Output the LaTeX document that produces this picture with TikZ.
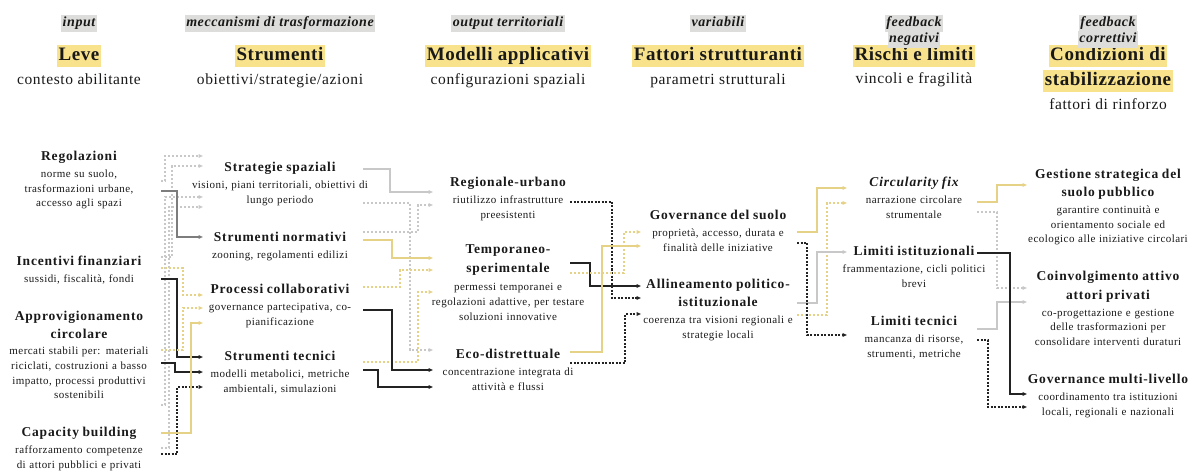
\documentclass[tikz,border=0pt]{standalone}
\usepackage{fontspec}
\setmainfont{Liberation Serif}[LetterSpace=4]
\newfontfamily\ttlfont{Liberation Serif}[LetterSpace=6]
\newfontfamily\hdfont{Liberation Serif}[LetterSpace=3]
\newfontfamily\lblfont{Liberation Serif}[LetterSpace=4]
\usepackage{xcolor}
\usetikzlibrary{arrows.meta}
\definecolor{hlyellow}{RGB}{248,226,140}
\definecolor{lblgray}{RGB}{221,221,219}
\definecolor{lnyellow}{RGB}{230,210,135}
\definecolor{lngray}{RGB}{200,200,200}
\definecolor{midgray}{RGB}{125,125,125}
\definecolor{lndark}{RGB}{35,35,35}
\definecolor{txtdark}{RGB}{25,25,25}
\newcommand{\nodettl}[1]{{\ttlfont\fontsize{13.5}{15}\selectfont\bfseries #1}}

\begin{document}
\begin{tikzpicture}[x=1pt, y=-1pt,
  every node/.style={text=txtdark},
  lbl/.style={fill=lblgray, inner xsep=1.5pt, inner ysep=2.2pt, text height=9.5pt, text depth=3pt,
              font=\lblfont\fontsize{14}{16}\selectfont\bfseries\itshape},
  hd/.style={fill=hlyellow, inner xsep=1.5pt, inner ysep=2pt, text height=13.5pt, text depth=4.5pt,
             font=\hdfont\fontsize{19}{22}\selectfont\bfseries},
  sub/.style={inner sep=0pt, text height=10pt, text depth=3pt, font=\fontsize{15.5}{18}\selectfont},
  item/.style={anchor=north, inner sep=0pt, align=center, text width=230pt,
               font=\fontsize{11}{14.8}\selectfont},
  arr/.style={-{Triangle[length=4.5pt, width=3.6pt]}, line width=1.1pt},
  ysol/.style={arr, draw=lnyellow},
  ydot/.style={arr, draw=lnyellow, dash pattern=on 2.2pt off 1.8pt},
  gsol/.style={arr, draw=lngray},
  gdot/.style={arr, draw=lngray, dash pattern=on 2.2pt off 1.8pt},
  msol/.style={arr, draw=midgray},
  ksol/.style={arr, draw=lndark},
  kdot/.style={arr, draw=lndark, dash pattern=on 2pt off 1.5pt}
]
\useasboundingbox (0,0) rectangle (1189,473);

% Intestazioni
\node[lbl] (hIn) at (79,23.5) {input};
\node[lbl] (hMec) at (280,23.5) {meccanismi di trasformazione};
\node[lbl] (hOut) at (508,23.5) {output territoriali};
\node[lbl] (hVar) at (718,23.5) {variabili};

\node[hd] (tLev) at (79,56.5) {Leve};
\node[hd] (tStr) at (280,56.5) {Strumenti};
\node[hd] (tMod) at (508,56.5) {Modelli applicativi};
\node[hd] (tFat) at (718,56.5) {Fattori strutturanti};
\node[hd] (tRis) at (914,56.5) {Rischi e limiti};
\node[hd] (tCon1) at (1108,56.5) {Condizioni di};
\node[hd] (tCon2) at (1108,81.5) {stabilizzazione};

\node[lbl] (hNeg1) at (914,23.5) {feedback};
\node[lbl] (hNeg2) at (914,39.5) {negativi};
\node[lbl] (hCor1) at (1108,23.5) {feedback};
\node[lbl] (hCor2) at (1108,39.5) {correttivi};

\node[sub] (sLev) at (79,81.5) {contesto abilitante};
\node[sub] (sStr) at (280,81.5) {obiettivi/strategie/azioni};
\node[sub] (sMod) at (508,81.5) {configurazioni spaziali};
\node[sub] (sFat) at (718,81.5) {parametri strutturali};
\node[sub] (sRis) at (914,80) {vincoli e fragilità};
\node[sub] (sCon) at (1108,106.5) {fattori di rinforzo};

% Colonna 1: Leve
\node[item] (R1) at (79,151) {\nodettl{Regolazioni}\\[2pt] norme su suolo,\\ trasformazioni urbane,\\ accesso agli spazi};
\node[item] (R2) at (79,256) {\nodettl{Incentivi finanziari}\\[2pt] sussidi, fiscalità, fondi};
\node[item] (R3) at (79,311) {\nodettl{Approvigionamento}\\[3.2pt] \nodettl{circolare}\\[1.2pt]
  mercati stabili per: materiali\\ riciclati, costruzioni a basso\\ impatto, processi produttivi\\ sostenibili};
\node[item] (R4) at (79,427) {\nodettl{Capacity building}\\[2pt] rafforzamento competenze\\ di attori pubblici e privati};

% Colonna 2: Strumenti
\node[item] (S1) at (280,162) {\nodettl{Strategie spaziali}\\[2pt] visioni, piani territoriali, obiettivi di\\ lungo periodo};
\node[item] (S2) at (280,232) {\nodettl{Strumenti normativi}\\[2pt] zooning, regolamenti edilizi};
\node[item] (S3) at (280,284) {\nodettl{Processi collaborativi}\\[2pt] governance partecipativa, co-\\ pianificazione};
\node[item] (S4) at (280,351) {\nodettl{Strumenti tecnici}\\[2pt] modelli metabolici, metriche\\ ambientali, simulazioni};

% Colonna 3: Modelli applicativi
\node[item] (M1) at (508,177) {\nodettl{Regionale-urbano}\\[2pt] riutilizzo infrastrutture\\ preesistenti};
\node[item] (M2) at (508,244) {\nodettl{Temporaneo-}\\[5pt] \nodettl{sperimentale}\\[3pt]
  permessi temporanei e\\ regolazioni adattive, per testare\\ soluzioni innovative};
\node[item] (M3) at (508,349) {\nodettl{Eco-distrettuale}\\[2pt] concentrazione integrata di\\ attività e flussi};

% Colonna 4: Fattori strutturanti
\node[item] (F1) at (718,210) {\nodettl{Governance del suolo}\\[2pt] proprietà, accesso, durata e\\ finalità delle iniziative};
\node[item] (F2) at (718,279) {\nodettl{Allineamento politico-}\\[3.2pt] \nodettl{istituzionale}\\[2pt]
  coerenza tra visioni regionali e\\ strategie locali};

% Colonna 5: Rischi e limiti
\node[item] (K1) at (914,177) {\nodettl{\itshape Circularity fix}\\[2pt] narrazione circolare\\ strumentale};
\node[item] (K2) at (914,246) {\nodettl{Limiti istituzionali}\\[2pt] frammentazione, cicli politici\\ brevi};
\node[item] (K3) at (914,316) {\nodettl{Limiti tecnici}\\[2pt] mancanza di risorse,\\ strumenti, metriche};

% Colonna 6: Condizioni di stabilizzazione
\node[item] (C1) at (1108,169) {\nodettl{Gestione strategica del}\\[3.2pt] \nodettl{suolo pubblico}\\[2pt]
  garantire continuità e\\ orientamento sociale ed\\ ecologico alle iniziative circolari};
\node[item] (C2) at (1108,271) {\nodettl{Coinvolgimento attivo}\\[4pt] \nodettl{attori privati}\\[2pt]
  co-progettazione e gestione\\ delle trasformazioni per\\ consolidare interventi duraturi};
\node[item] (C3) at (1108,374) {\nodettl{Governance multi-livello}\\[2pt] coordinamento tra istituzioni\\ locali, regionali e nazionali};

% Leve -> Strumenti
\draw[gdot] ([shift={(82,30)}]R1.north) -- ++(4,0) |- ([shift={(-77,-6)}]S1.north);
\draw[gdot] ([shift={(82,1)}]R2.north) -- ++(11,0) |- ([shift={(-77,4)}]S1.north);
\draw[gdot] ([shift={(82,94)}]R3.north) -- ++(4,0) |- ([shift={(-77,35)}]S1.north);
\draw[gdot] ([shift={(82,21)}]R4.north) -- ++(8,0) |- ([shift={(-77,45)}]S1.north);
\draw[msol] ([shift={(82,40)}]R1.north) -- ++(16,0) |- ([shift={(-77,5)}]S2.north);
\draw[ksol] ([shift={(82,23)}]R2.north) -- ++(16,0) |- ([shift={(-77,6)}]S4.north);
\draw[ksol] ([shift={(82,52)}]R3.north) -- ++(14,0) |- ([shift={(-77,21)}]S4.north);
\draw[kdot] ([shift={(82,27)}]R4.north) -- ++(16,0) |- ([shift={(-77,36)}]S4.north);
\draw[ysol] ([shift={(82,6)}]R4.north) -- ++(30,0) |- ([shift={(-77,39)}]S3.north);
\draw[ydot] ([shift={(82,12)}]R2.north) -- ++(22,0) |- ([shift={(-77,11)}]S3.north);
\draw[ydot] ([shift={(82,39)}]R3.north) -- ++(22,0) |- ([shift={(-77,24)}]S3.north);

% Strumenti -> Modelli applicativi
\draw[gsol] ([shift={(83,7)}]S1.north) -- ++(27,0) |- ([shift={(-75,15)}]M1.north);
\draw[gdot] ([shift={(83,41)}]S1.north) -- ++(47,0) |- ([shift={(-75,1)}]M3.north);
\draw[gdot] ([shift={(83,0)}]S2.north) -- ++(55,0) |- ([shift={(-75,28)}]M1.north);
\draw[ysol] ([shift={(83,8)}]S2.north) -- ++(29,0) |- ([shift={(-75,14)}]M2.north);
\draw[ydot] ([shift={(83,3)}]S3.north) -- ++(37,0) |- ([shift={(-75,26)}]M2.north);
\draw[ydot] ([shift={(83,11)}]S4.north) -- ++(55,0) |- ([shift={(-75,48)}]M2.north);
\draw[ksol] ([shift={(83,26)}]S3.north) -- ++(29,0) |- ([shift={(-75,21)}]M3.north);
\draw[ksol] ([shift={(83,19)}]S4.north) -- ++(15,0) |- ([shift={(-75,38)}]M3.north);

% Modelli applicativi -> Fattori
\draw[kdot] ([shift={(62,25)}]M1.north) -- ++(42,0) |- ([shift={(-77,19)}]F2.north);
\draw[ksol] ([shift={(62,19)}]M2.north) -- ++(20,0) |- ([shift={(-77,7)}]F2.north);
\draw[ysol] ([shift={(62,3)}]M3.north) -- ++(32,0) |- ([shift={(-77,36)}]F1.north);
\draw[ydot] ([shift={(62,29)}]M2.north) -- ++(54,0) |- ([shift={(-77,22)}]F1.north);
\draw[kdot] ([shift={(62,14)}]M3.north) -- ++(55,0) |- ([shift={(-77,35)}]F2.north);

% Fattori -> Rischi
\draw[ysol] ([shift={(79,22)}]F1.north) -- ++(20,0) |- ([shift={(-67,11)}]K1.north);
\draw[ydot] ([shift={(79,36)}]F2.north) -- ++(30,0) |- ([shift={(-67,26)}]K1.north);
\draw[gsol] ([shift={(79,24)}]F2.north) -- ++(20,0) |- ([shift={(-67,6)}]K2.north);
\draw[kdot] ([shift={(79,33)}]F1.north) -- ++(10,0) |- ([shift={(-67,19)}]K3.north);

% Rischi -> Condizioni
\draw[ysol] ([shift={(63,25)}]K1.north) -- ++(20,0) |- ([shift={(-81,16)}]C1.north);
\draw[gdot] ([shift={(63,35)}]K1.north) -- ++(20,0) |- ([shift={(-81,17)}]C2.north);
\draw[gsol] ([shift={(63,13)}]K3.north) -- ++(20,0) |- ([shift={(-81,31)}]C2.north);
\draw[ksol] ([shift={(63,7)}]K2.north) -- ++(33,0) |- ([shift={(-81,20)}]C3.north);
\draw[kdot] ([shift={(63,24)}]K3.north) -- ++(11,0) |- ([shift={(-81,33)}]C3.north);

\end{tikzpicture}
\end{document}
